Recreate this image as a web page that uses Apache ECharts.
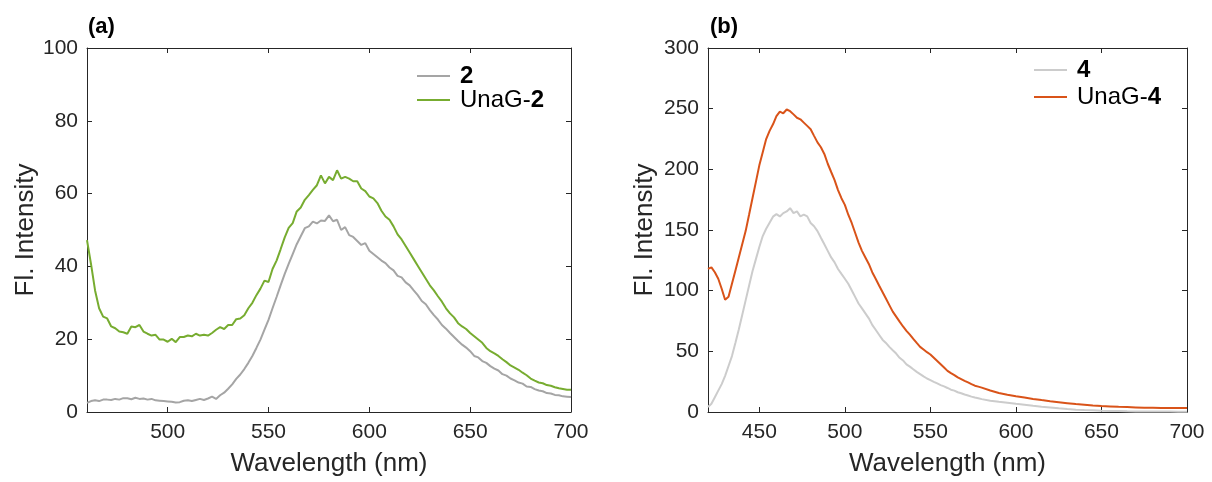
<!DOCTYPE html>
<html>
<head>
<meta charset="utf-8">
<script src="https://cdn.jsdelivr.net/npm/echarts@6/dist/echarts.min.js"></script>
<style>
html,body{margin:0;padding:0;background:#fff;}
#c{width:1212px;height:482px;}
</style>
</head>
<body>
<div id="c"></div>
<script>
// ---------- Panel (a) ----------
var wlA = [460,462,464,466,468,470,472,474,476,478,480,482,484,486,488,490,492,494,496,498,
500,502,504,506,508,510,512,514,516,518,520,522,524,526,528,530,532,534,536,538,
540,542,544,546,548,550,552,554,556,558,560,562,564,566,568,570,572,574,576,578,
580,582,584,586,588,590,592,594,596,598,600,602,604,606,608,610,612,614,616,618,
620,622,624,626,628,630,632,634,636,638,640,642,644,646,648,650,652,654,656,658,
660,662,664,666,668,670,672,674,676,678,680,682,684,686,688,690,692,694,696,698,700];
var fl2 = [2.5,3.0,3.2,3.0,3.4,3.4,3.3,3.6,3.4,3.8,3.8,3.5,3.9,3.6,3.7,3.4,3.6,3.2,3.1,3.0,
2.9,2.8,2.6,2.7,3.1,3.2,3.0,3.3,3.6,3.3,3.7,4.2,3.6,4.6,5.3,6.4,7.6,9.1,10.3,11.8,
13.5,15.4,17.6,19.9,22.6,25.3,28.5,31.6,34.8,37.9,40.7,43.4,46.1,48.3,50.5,51.0,52.3,51.8,52.6,52.5,
54.0,52.4,52.8,50.0,50.8,48.6,48.1,47.0,45.9,46.4,44.3,43.4,42.5,41.6,40.9,39.7,38.9,37.4,37.0,35.6,
34.8,33.4,32.1,30.5,29.6,28.0,26.6,25.4,23.9,22.9,21.7,20.6,19.5,18.5,17.7,16.7,15.4,15.0,14.0,13.5,
12.6,11.9,11.4,10.4,10.0,9.2,8.7,8.1,7.8,7.0,6.9,6.3,5.9,5.7,5.2,5.1,4.7,4.6,4.3,4.2,4.1];
var flUnaG2 = [47.2,40.6,33.4,28.5,26.2,25.7,23.5,23.0,22.1,21.9,21.5,23.5,23.3,23.9,22.1,21.5,21.0,21.2,19.9,19.9,
19.3,20.1,19.2,20.6,20.6,21.0,20.8,21.5,21.0,21.2,21.0,21.7,22.6,23.3,22.8,23.9,23.9,25.5,25.7,26.6,
28.5,30.0,32.1,33.9,36.1,35.7,39.3,41.6,44.7,47.9,50.6,51.9,55.1,56.2,58.3,59.6,61.0,62.3,65.0,62.8,
64.6,63.7,66.4,64.1,64.6,64.1,63.4,63.4,61.4,60.7,59.2,58.7,57.4,55.3,53.7,52.8,51.0,48.8,47.4,45.6,
43.8,42.0,40.2,38.4,36.6,34.8,33.4,31.8,30.3,28.5,27.1,26.0,24.4,23.5,22.8,21.7,20.8,19.9,19.0,17.6,
16.7,16.1,15.4,14.5,13.7,12.8,12.2,11.6,10.8,10.1,9.2,8.6,8.1,7.9,7.4,7.2,6.8,6.5,6.3,6.1,6.1];
var xTicksA = [500,550,600,650,700];

// ---------- Panel (b) ----------
var wlB = [420,422,424,426,428,430,432,434,436,438,440,442,444,446,448,450,452,454,456,458,
460,462,464,466,468,470,472,474,476,478,480,482,484,486,488,490,492,494,496,498,
500,502,504,506,508,510,512,514,516,518,520,522,524,526,528,530,532,534,536,538,
540,542,544,546,548,550,552,554,556,558,560,562,564,566,568,570,572,574,576,578,580,
585,590,595,600,605,610,615,620,625,630,635,640,645,650,655,660,665,670,675,680,685,690,695,700];
var fl4 = [4.1,6.8,12.2,17.6,23.0,29.8,37.9,46.1,56.9,68.0,80.0,92.0,104.0,116.0,126.0,136.0,145.0,151.0,156.0,161.0,
163.1,161.2,163.9,165.3,168.0,163.9,165.3,161.2,162.6,161.2,155.8,153.1,149.1,143.6,138.2,132.8,127.4,123.3,117.9,113.8,
109.8,105.7,100.3,94.9,89.4,85.4,81.3,77.2,71.8,67.8,63.7,59.6,56.9,53.7,50.9,48.2,44.7,42.5,39.3,37.4,
35.2,33.1,31.2,29.3,27.6,26.3,24.9,23.6,22.2,21.1,19.8,18.4,17.6,16.3,15.4,14.4,13.6,12.7,11.9,11.4,10.6,
9.3,8.4,7.7,6.8,6.0,5.1,4.3,3.8,3.0,2.4,1.9,1.6,1.4,1.1,0.9,0.8,0.6,0.5,0.5,0.5,0.4,0.4,0.3,0.3];
var flUnaG4 = [117.9,119.2,115.2,109.8,101.6,92.5,94.9,105.7,116.5,127.4,138.2,149.1,162.6,176.2,189.7,203.3,214.1,224.9,231.7,237.1,
243.9,247.6,246.2,249.3,247.9,245.3,242.5,241.2,238.5,235.8,233.1,227.6,222.2,218.2,212.7,204.6,197.8,191.1,182.9,176.2,
170.7,162.6,155.8,147.7,139.6,132.8,127.4,122.0,115.2,109.8,104.3,98.9,93.5,88.1,82.7,78.6,74.5,70.5,66.9,63.7,
60.2,56.9,53.7,51.5,49.3,47.4,44.7,42.0,39.3,36.6,33.9,32.0,30.4,28.5,27.1,25.7,24.4,23.0,21.7,20.9,20.1,
17.7,15.7,14.3,13.0,11.9,10.8,9.8,8.9,8.1,7.3,6.5,6.0,5.4,4.9,4.6,4.3,4.1,3.8,3.5,3.5,3.3,3.3,3.3,3.3];
var xTicksB = [450,500,550,600,650,700];

function pairs(xs, ys){ var o=[]; for (var i=0;i<xs.length;i++) o.push([xs[i], ys[i]]); return o; }

var FONT = "'Liberation Sans', Arial, Helvetica, sans-serif";
var AX = '#262626';

function xAx(grid, min, max, ticks, bottom){
  return {
    type:'value', gridIndex:grid, min:min, max:max, position: bottom?'bottom':'top',
    name: bottom ? 'Wavelength (nm)' : '', nameLocation:'middle', nameGap:39,
    nameTextStyle:{fontFamily:FONT, fontSize:26, color:AX},
    axisLine:{show:true, onZero:false, lineStyle:{color:AX, width:1}},
    axisTick:{show:true, inside:true, length:5, customValues:ticks, lineStyle:{color:AX}},
    axisLabel:{show:bottom, customValues:ticks, margin:10, fontFamily:FONT, fontSize:21, color:AX},
    splitLine:{show:false}
  };
}
function yAx(grid, max, interval, left, gap){
  return {
    type:'value', gridIndex:grid, min:0, max:max, interval:interval, position: left?'left':'right',
    name: left ? 'Fl. Intensity' : '', nameLocation:'middle', nameGap:gap,
    nameTextStyle:{fontFamily:FONT, fontSize:26, color:AX},
    axisLine:{show:true, onZero:false, lineStyle:{color:AX, width:1}},
    axisTick:{show:true, inside:true, length:5, lineStyle:{color:AX}},
    axisLabel:{show:left, margin:9, fontFamily:FONT, fontSize:21, color:AX},
    splitLine:{show:false}
  };
}
function legendFmt(name){
  var m = name.match(/^(.*?)(\d)$/);
  return m[1] + '{b|' + m[2] + '}';
}
function legend(names, left, top, gap){
  return {
    data:names, orient:'vertical', left:left, top:top, padding:0, itemGap:gap,
    itemWidth:33, itemHeight:14, icon:'path://M0,6 L33,6 L33,8 L0,8 Z',
    formatter:legendFmt,
    textStyle:{fontFamily:FONT, fontSize:24, lineHeight:24, color:'#000', padding:[0,0,0,5],
      rich:{b:{fontFamily:FONT, fontSize:24, lineHeight:24, fontWeight:'bold', color:'#000'}}}
  };
}

var chart = echarts.init(document.getElementById('c'), null, {renderer:'canvas'});
chart.setOption({
  animation:false,
  backgroundColor:'#fff',
  title:[
    {text:'(a)', left:88, top:16, padding:0, textStyle:{fontFamily:FONT, fontSize:22, fontWeight:'bold', color:'#000'}},
    {text:'(b)', left:710, top:16, padding:0, textStyle:{fontFamily:FONT, fontSize:22, fontWeight:'bold', color:'#000'}}
  ],
  grid:[
    {left:87, top:48, width:484, height:369},
    {left:708, top:48, width:479, height:369}
  ],
  legend:[
    legend(['2','UnaG-2'], 417, 64, 0),
    legend(['4','UnaG-4'], 1034, 58, 3)
  ],
  xAxis:[
    xAx(0, 460, 700, xTicksA, true),
    xAx(0, 460, 700, xTicksA, false),
    xAx(1, 420, 700, xTicksB, true),
    xAx(1, 420, 700, xTicksB, false)
  ],
  yAxis:[
    yAx(0, 100, 20, true, 48),
    yAx(0, 100, 20, false, 0),
    yAx(1, 300, 50, true, 50),
    yAx(1, 300, 50, false, 0)
  ],
  series:[
    {name:'2', type:'line', xAxisIndex:0, yAxisIndex:0, data:pairs(wlA, fl2), symbol:'none', lineStyle:{color:'#A5A5A5', width:2}, itemStyle:{color:'#A5A5A5'}},
    {name:'UnaG-2', type:'line', xAxisIndex:0, yAxisIndex:0, data:pairs(wlA, flUnaG2), symbol:'none', lineStyle:{color:'#77AC30', width:2}, itemStyle:{color:'#77AC30'}},
    {name:'4', type:'line', xAxisIndex:2, yAxisIndex:2, data:pairs(wlB, fl4), symbol:'none', lineStyle:{color:'#CCCCCC', width:2}, itemStyle:{color:'#CCCCCC'}},
    {name:'UnaG-4', type:'line', xAxisIndex:2, yAxisIndex:2, data:pairs(wlB, flUnaG4), symbol:'none', lineStyle:{color:'#D95319', width:2}, itemStyle:{color:'#D95319'}}
  ]
});
</script>
</body>
</html>
